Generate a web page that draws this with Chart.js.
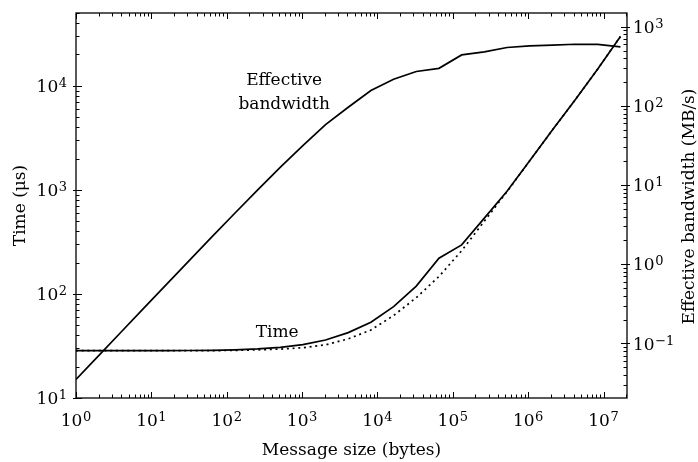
<!DOCTYPE html>
<html>
<head>
<meta charset="utf-8">
<script src="https://cdn.jsdelivr.net/npm/chart.js@4/dist/chart.umd.min.js"></script>
<style>
  body { margin: 0; background: #fff; }
  canvas { display: block; }
</style>
</head>
<body>
<canvas id="chart" width="698" height="462"></canvas>
<script>
// 消息大小 (bytes)
const sizes = [1, 2, 4, 8, 16, 32, 64, 128, 256, 512, 1024, 2048, 4096, 8192, 16384,
    32768, 65536, 131072, 262144, 524288, 1048576, 2097152, 4194304, 8388608, 16777216];

// 实测时间 (μs)
const timeMeasured = [28.5, 28.5, 28.5, 28.5, 28.5, 28.6, 28.7, 29.0, 29.6, 30.6, 32.6, 36.1, 42.5,
    53.5, 75.5, 119, 220, 296, 535, 970, 1900, 3750, 7300, 14500, 29800];

// 模型时间 (μs), 虚线
const timeModel = [28.5, 28.5, 28.5, 28.5, 28.5, 28.5, 28.5, 28.7, 29.0, 29.5, 30.4, 32.4, 37,
    45, 62, 92, 147, 260, 500, 960, 1900, 3750, 7300, 14500, 29800];

// 有效带宽 (MB/s)
const bandwidth = [0.035, 0.070, 0.140, 0.28, 0.56, 1.12, 2.23, 4.4, 8.6, 16.7, 31.5, 58, 96,
    156, 217, 272, 298, 440, 481, 546, 573, 585, 600, 598, 556];

// 刻度标签 (10 的幂)
const xDecades = [0, 1, 2, 3, 4, 5, 6, 7];
const timeDecades = [1, 2, 3, 4];
const bwDecades = [-1, 0, 1, 2, 3];

// 图中的文字标注
const notes = [
    { lines: ['Effective', 'bandwidth'], x: 578, y: 10220 },
    { lines: ['Time'], x: 467, y: 38.35 }
];

const FONT = '"DejaVu Serif", "Liberation Serif", serif';

function toPoints(ys) {
    return sizes.map((s, i) => ({ x: s, y: ys[i] }));
}

// 画 10^n 形式的标签
function drawPow(ctx, exp, x, y, align) {
    const base = '10';
    const sup = exp < 0 ? '\u2212' + (-exp) : String(exp);
    ctx.font = '17px ' + FONT;
    const wb = ctx.measureText(base).width;
    ctx.font = '13px ' + FONT;
    const ws = ctx.measureText(sup).width;
    const total = wb + ws + 0.5;
    let left = x;
    if (align === 'center') left = x - total / 2;
    if (align === 'right') left = x - total;
    ctx.textAlign = 'left';
    ctx.textBaseline = 'alphabetic';
    ctx.font = '17px ' + FONT;
    ctx.fillText(base, left, y);
    ctx.font = '13px ' + FONT;
    ctx.fillText(sup, left + wb + 0.5, y - 5);
}

function minorValues(scale) {
    const out = [];
    const lo = Math.floor(Math.log10(scale.min));
    const hi = Math.ceil(Math.log10(scale.max));
    for (let k = lo; k <= hi; k++) {
        for (let m = 2; m <= 9; m++) {
            const v = m * Math.pow(10, k);
            if (v >= scale.min && v <= scale.max) out.push(v);
        }
    }
    return out;
}

// 坐标框、刻度、标签和标注
const axisDecor = {
    id: 'axisDecor',
    afterDatasetsDraw(chart) {
        const { ctx, chartArea: a, scales } = chart;
        const sx = scales.x, sy = scales.y, sy2 = scales.y2;
        ctx.save();
        ctx.strokeStyle = '#000';
        ctx.fillStyle = '#000';
        ctx.lineWidth = 1.3;
        ctx.strokeRect(a.left, a.top, a.right - a.left, a.bottom - a.top);

        ctx.lineWidth = 1;
        ctx.beginPath();
        // x 轴 (上下)
        xDecades.forEach(d => {
            const px = Math.round(sx.getPixelForValue(Math.pow(10, d))) + 0.5;
            ctx.moveTo(px, a.bottom); ctx.lineTo(px, a.bottom - 6);
            ctx.moveTo(px, a.top); ctx.lineTo(px, a.top + 6);
        });
        minorValues(sx).forEach(v => {
            const px = Math.round(sx.getPixelForValue(v)) + 0.5;
            ctx.moveTo(px, a.bottom); ctx.lineTo(px, a.bottom - 3.5);
            ctx.moveTo(px, a.top); ctx.lineTo(px, a.top + 3.5);
        });
        // 左轴
        timeDecades.forEach(d => {
            const py = Math.round(sy.getPixelForValue(Math.pow(10, d))) + 0.5;
            ctx.moveTo(a.left - 3, py); ctx.lineTo(a.left + 6, py);
        });
        minorValues(sy).forEach(v => {
            const py = Math.round(sy.getPixelForValue(v)) + 0.5;
            ctx.moveTo(a.left, py); ctx.lineTo(a.left + 3.5, py);
        });
        // 右轴
        bwDecades.forEach(d => {
            const py = Math.round(sy2.getPixelForValue(Math.pow(10, d))) + 0.5;
            ctx.moveTo(a.right - 6, py); ctx.lineTo(a.right + 3, py);
        });
        minorValues(sy2).forEach(v => {
            const py = Math.round(sy2.getPixelForValue(v)) + 0.5;
            ctx.moveTo(a.right, py); ctx.lineTo(a.right - 3.5, py);
        });
        ctx.stroke();

        // 刻度标签
        xDecades.forEach(d => drawPow(ctx, d, sx.getPixelForValue(Math.pow(10, d)), a.bottom + 28, 'center'));
        timeDecades.forEach(d => drawPow(ctx, d, a.left - 9, sy.getPixelForValue(Math.pow(10, d)) + 6.2, 'right'));
        bwDecades.forEach(d => drawPow(ctx, d, a.right + 6, sy2.getPixelForValue(Math.pow(10, d)) + 6.2, 'left'));

        // 轴标题
        ctx.font = '17px ' + FONT;
        ctx.textAlign = 'center';
        ctx.textBaseline = 'alphabetic';
        ctx.fillText('Message size (bytes)', (a.left + a.right) / 2, a.bottom + 57);

        ctx.save();
        ctx.translate(24.5, (a.top + a.bottom) / 2);
        ctx.rotate(-Math.PI / 2);
        ctx.fillText('Time (\u03bcs)', 0, 0);
        ctx.restore();

        ctx.save();
        ctx.translate(694, 206.5);
        ctx.rotate(-Math.PI / 2);
        ctx.fillText('Effective bandwidth (MB/s)', 0, 0);
        ctx.restore();

        // 标注
        notes.forEach(n => {
            const px = sx.getPixelForValue(n.x);
            const py = sy.getPixelForValue(n.y);
            n.lines.forEach((t, i) => ctx.fillText(t, px, py + i * 24.3));
        });
        ctx.restore();
    }
};

const ctx = document.getElementById('chart').getContext('2d');
const chart = new Chart(ctx, {
    type: 'line',
    data: {
        datasets: [{
            label: 'Time (model)',
            data: toPoints(timeModel),
            yAxisID: 'y',
            borderColor: '#000',
            borderWidth: 1.7,
            borderDash: [2, 3.7],
            pointRadius: 0,
            tension: 0,
            fill: false
        }, {
            label: 'Time',
            data: toPoints(timeMeasured),
            yAxisID: 'y',
            borderColor: '#000',
            borderWidth: 1.7,
            pointRadius: 0,
            tension: 0,
            fill: false
        }, {
            label: 'Effective bandwidth',
            data: toPoints(bandwidth),
            yAxisID: 'y2',
            borderColor: '#000',
            borderWidth: 1.7,
            pointRadius: 0,
            tension: 0,
            fill: false
        }]
    },
    options: {
        responsive: false,
        animation: false,
        devicePixelRatio: 1,
        layout: {
            padding: { left: 76, right: 71, top: 13, bottom: 64 }
        },
        plugins: {
            legend: { display: false },
            tooltip: { enabled: false }
        },
        scales: {
            x: {
                type: 'logarithmic',
                min: 1,
                max: 2.05e7,
                display: false
            },
            y: {
                type: 'logarithmic',
                position: 'left',
                min: 10,
                max: 5.0e4,
                display: false
            },
            y2: {
                type: 'logarithmic',
                position: 'right',
                min: 0.0204,
                max: 1490,
                display: false
            }
        }
    },
    plugins: [axisDecor]
});
</script>
</body>
</html>
